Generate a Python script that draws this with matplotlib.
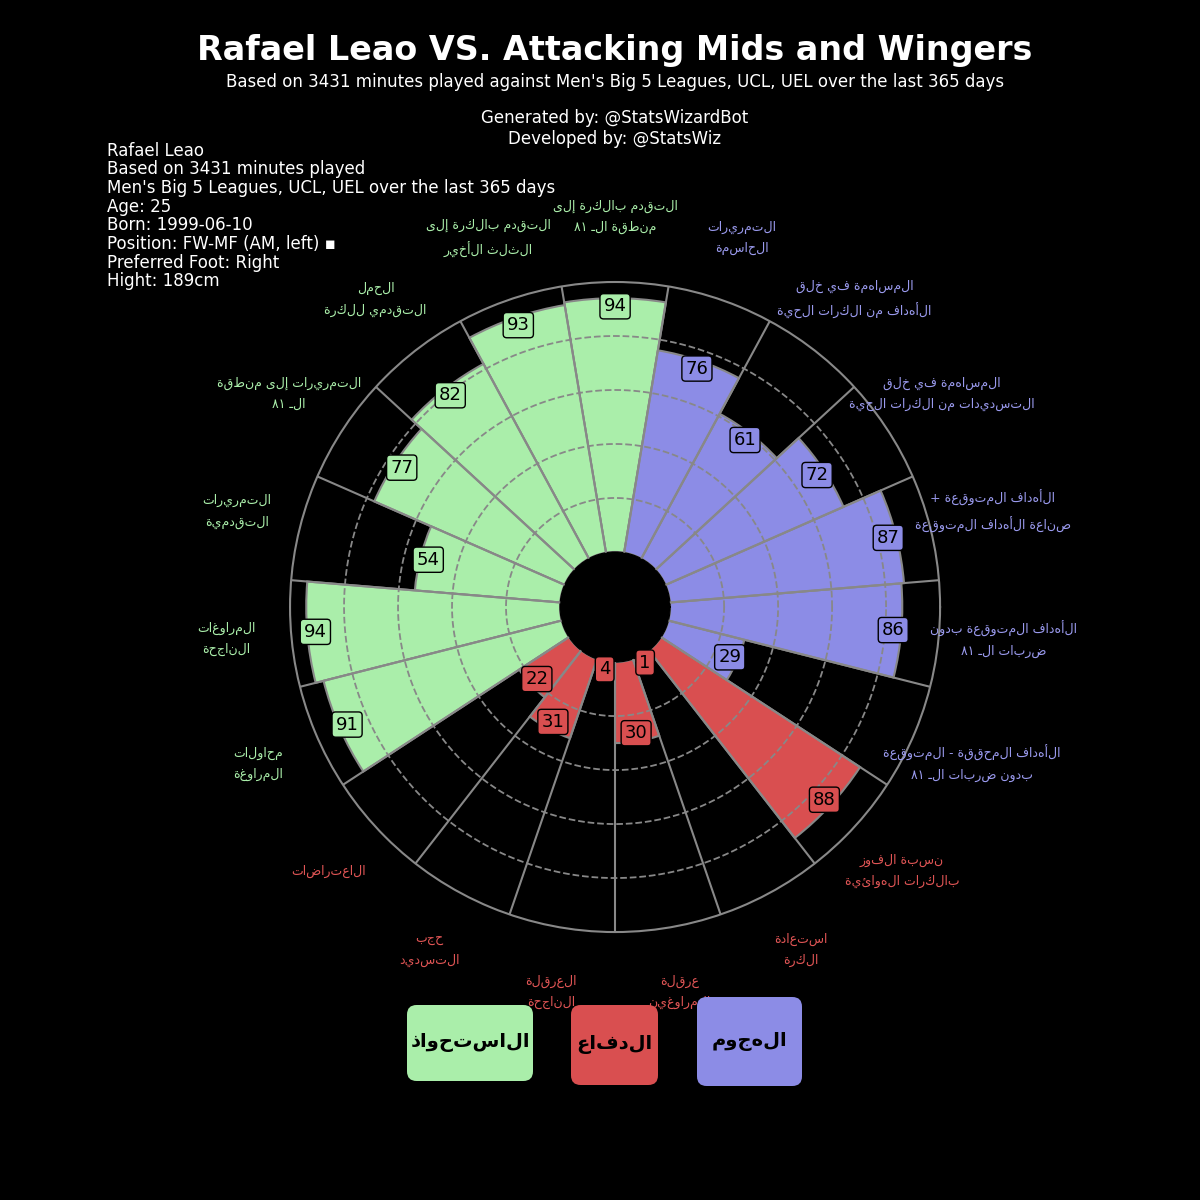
import numpy as np
import matplotlib.pyplot as plt
from matplotlib.patches import FancyBboxPatch

plt.rcParams['font.family'] = ['DejaVu Sans']

# المعايير بالترتيب عكس عقارب الساعة بدءا من الأعلى
params = [
    "التقدم بالكرة إلى\nمنطقة الـ ١٨",
    "التقدم بالكرة إلى\nالثلث الأخير",
    "الحمل\nالتقدمي للكرة",
    "التمريرات إلى منطقة\nالـ ١٨",
    "التمريرات\nالتقدمية",
    "المراوغات\nالناجحة",
    "محاولات\nالمراوغة",
    "الاعتراضات",
    "حجب\nالتسديد",
    "العرقلة\nالناجحة",
    "عرقلة\nالمراوغين",
    "استعادة\nالكرة",
    "نسبة الفوز\nبالكرات الهوائية",
    "الأهداف المحققة - المتوقعة\nبدون ضربات الـ ١٨",
    "الأهداف المتوقعة بدون\nضربات الـ ١٨",
    "الأهداف المتوقعة +\nصناعة الأهداف المتوقعة",
    "المساهمة في خلق\nالتسديدات من الكرات الحية",
    "المساهمة في خلق\nالأهداف من الكرات الحية",
    "التمريرات\nالحاسمة",
]
values = [94, 93, 82, 77, 54, 94, 91, 22, 31, 4, 30, 1, 88, 29, 86, 87, 72, 61, 76]
groups = ['pos'] * 7 + ['def'] * 6 + ['att'] * 6

colors = {'pos': '#aaeeaa', 'def': '#d94f50', 'att': '#8c8ce6'}
text_colors = {'pos': '#aaeeaa', 'def': '#e05555', 'att': '#9a9aee'}
legend_names = {'pos': "الاستحواذ", 'def': "الدفاع", 'att': "الهجوم"}


def rtl(s):
    return '\n'.join(line[::-1] for line in s.split('\n'))


n = len(values)
width = 2 * np.pi / n
theta = np.pi / 2 + np.arange(n) * width

fig = plt.figure(figsize=(12, 12), dpi=100, facecolor='black')
ax = fig.add_axes([0.2417, 0.2233, 0.5417, 0.5417], projection='polar')
ax.set_facecolor('black')
ax.set_rorigin(-20.4)
ax.set_ylim(0, 100)
ax.set_xticks([])
ax.set_yticks([])
ax.spines['polar'].set_color('#888888')
ax.spines['polar'].set_linewidth(1.5)
ax.grid(False)

ax.bar(theta, values, width=width, bottom=0,
       color=[colors[g] for g in groups], edgecolor='#888888', linewidth=1.5, zorder=2)

tt = np.linspace(0, 2 * np.pi, 400)
for r in [20, 40, 60, 80]:
    ax.plot(tt, [r] * len(tt), color='#888888', ls='--', lw=1.3, zorder=3)
for b in theta - width / 2:
    ax.plot([b, b], [0, 100], color='#888888', lw=1.5, zorder=3)

for t, v, g, p in zip(theta, values, groups, params):
    ax.text(t, max(v - 3, 3), str(v), ha='center', va='center', fontsize=13,
            color='black', zorder=5,
            bbox=dict(boxstyle='round,pad=0.2', fc=colors[g], ec='black', lw=1))
    ax.text(t, 124, rtl(p), ha='center', va='center', fontsize=9,
            color=text_colors[g], linespacing=1.8, clip_on=False)

fig.text(0.5125, 0.958, "Rafael Leao VS. Attacking Mids and Wingers", ha='center',
         va='center', fontsize=24, fontweight='bold', color='white')
fig.text(0.5125, 0.932, "Based on 3431 minutes played against Men's Big 5 Leagues, UCL, UEL over the last 365 days",
         ha='center', va='center', fontsize=12, color='white')
fig.text(0.5125, 0.893, "Generated by: @StatsWizardBot\nDeveloped by: @StatsWiz",
         ha='center', va='center', fontsize=12, color='white')
info = ["Rafael Leao", "Based on 3431 minutes played",
        "Men's Big 5 Leagues, UCL, UEL over the last 365 days", "Age: 25",
        "Born: 1999-06-10", "Position: FW-MF (AM, left) ▪", "Preferred Foot: Right",
        "Hight: 189cm"]
fig.text(0.089, 0.882, '\n'.join(info), ha='left', va='top', fontsize=12,
         color='white', linespacing=1.05)

boxes = [('pos', 407, 1005, 126, 76), ('def', 571, 1005, 87, 80), ('att', 697, 997, 105, 89)]
for g, x, y, w, h in boxes:
    fig.patches.append(FancyBboxPatch((x / 1200, 1 - (y + h) / 1200), w / 1200, h / 1200,
                                      boxstyle='round,pad=0,rounding_size=0.008',
                                      transform=fig.transFigure, fc=colors[g], ec='none'))
    fig.text((x + w / 2) / 1200, 1 - (y + h / 2) / 1200, rtl(legend_names[g]),
             ha='center', va='center', fontsize=14, fontweight='bold', color='black')

fig.savefig('out.png', dpi=100, facecolor='black')
